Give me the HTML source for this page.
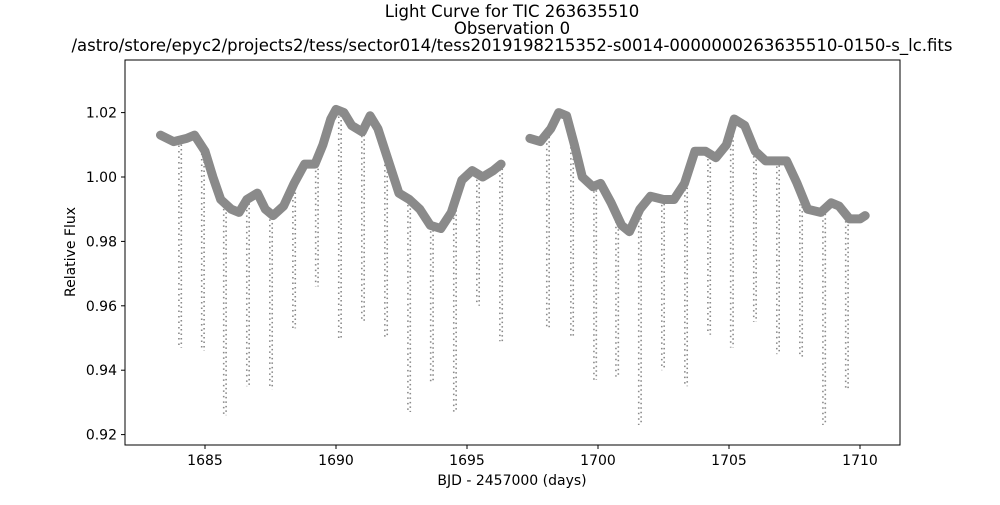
<!DOCTYPE html>
<html><head><meta charset="utf-8"><style>
body{margin:0;background:#fff;}
svg text{font-family:"DejaVu Sans","Liberation Sans",sans-serif;fill:#000;}
</style></head><body>
<svg id="chart" width="1000" height="500" xmlns="http://www.w3.org/2000/svg">
<g text-anchor="middle">
<text x="512" y="17" font-size="16.5">Light Curve for TIC 263635510</text>
<text x="512" y="34" font-size="16.5">Observation 0</text>
<text x="512" y="51" font-size="16.5">/astro/store/epyc2/projects2/tess/sector014/tess2019198215352-s0014-0000000263635510-0150-s_lc.fits</text>
</g>
<g id="marks"></g>
<rect x="125" y="60" width="775" height="385" fill="none" stroke="#000" stroke-width="1"/>
<g id="axes"></g>
<text x="512" y="485" font-size="14" text-anchor="middle">BJD - 2457000 (days)</text>
<text transform="translate(75,252) rotate(-90)" font-size="14" text-anchor="middle">Relative Flux</text>
</svg>
<script>
const seg1T=[1683.3,1683.8,1684.3,1684.6,1685.0,1685.3,1685.6,1686.0,1686.3,1686.6,1687.0,1687.3,1687.6,1688.0,1688.4,1688.8,1689.2,1689.5,1689.8,1690.0,1690.3,1690.6,1691.0,1691.3,1691.6,1692.0,1692.4,1692.8,1693.2,1693.6,1694.0,1694.4,1694.8,1695.2,1695.6,1696.0,1696.3];
const seg1F=[1.013,1.011,1.012,1.013,1.008,1.000,0.993,0.990,0.989,0.993,0.995,0.990,0.988,0.991,0.998,1.004,1.004,1.010,1.018,1.021,1.020,1.016,1.014,1.019,1.015,1.005,0.995,0.993,0.990,0.985,0.984,0.989,0.999,1.002,1.000,1.002,1.004];
const seg2T=[1697.4,1697.8,1698.2,1698.5,1698.8,1699.1,1699.4,1699.8,1700.1,1700.5,1700.9,1701.2,1701.6,1702.0,1702.5,1702.9,1703.3,1703.7,1704.1,1704.5,1704.9,1705.2,1705.6,1706.0,1706.4,1706.8,1707.2,1707.6,1708.0,1708.5,1708.9,1709.2,1709.6,1710.0,1710.2];
const seg2F=[1.012,1.011,1.015,1.020,1.019,1.010,1.000,0.997,0.998,0.992,0.985,0.983,0.990,0.994,0.993,0.993,0.998,1.008,1.008,1.006,1.010,1.018,1.016,1.008,1.005,1.005,1.005,0.998,0.990,0.989,0.992,0.991,0.987,0.987,0.988];
const dipT=[1684.05,1684.92,1685.76,1686.64,1687.52,1688.40,1689.27,1690.15,1691.03,1691.91,1692.79,1693.66,1694.54,1695.42,1696.30,1698.09,1699.01,1699.89,1700.73,1701.60,1702.48,1703.36,1704.24,1705.11,1705.99,1706.87,1707.75,1708.63,1709.50];
const dipF=[0.947,0.946,0.926,0.935,0.934,0.953,0.966,0.950,0.955,0.950,0.927,0.936,0.927,0.960,0.949,0.953,0.950,0.937,0.938,0.923,0.940,0.935,0.951,0.947,0.955,0.945,0.944,0.923,0.934];
const xTicks=[1685,1690,1695,1700,1705,1710];
const yTicks=[0.92,0.94,0.96,0.98,1.00,1.02];
const yLabels=["0.92","0.94","0.96","0.98","1.00","1.02"];
const NS="http://www.w3.org/2000/svg";
function X(t){return 336+(t-1690)*26.2;}
function Y(f){return 177-(f-1.0)*3220;}
function interp(T,F,t){for(let i=0;i<T.length-1;i++){if(t>=T[i]&&t<=T[i+1]){const u=(t-T[i])/(T[i+1]-T[i]);return F[i]+u*(F[i+1]-F[i]);}}return null;}
const marks=document.getElementById('marks');
[[seg1T,seg1F],[seg2T,seg2F]].forEach(([T,F],k)=>{
  const p=document.createElementNS(NS,'polyline');
  
  
  p.setAttribute('points',T.map((t,i)=>X(t).toFixed(1)+','+Y(F[i]).toFixed(1)).join(' '));
  p.setAttribute('fill','none');p.setAttribute('stroke','#8a8a8a');p.setAttribute('stroke-width','9');
  p.setAttribute('stroke-linejoin','round');p.setAttribute('stroke-linecap','round');
  marks.appendChild(p);
});
dipT.forEach((t,i)=>{
  let b=interp(seg1T,seg1F,t);if(b===null)b=interp(seg2T,seg2F,t);if(b===null)b=1.0;
  [-1.2,1.2].forEach((dx,j)=>{
    const l=document.createElementNS(NS,'line');
    
    
    l.setAttribute('x1',X(t)+dx);l.setAttribute('x2',X(t)+dx);
    l.setAttribute('y1',Y(b));l.setAttribute('y2',Y(dipF[i]));
    l.setAttribute('stroke','#8a8a8a');l.setAttribute('stroke-width','1.6');
    l.setAttribute('stroke-dasharray',j?'1.5 3':'1.5 4');
    marks.appendChild(l);
  });
});
const axes=document.getElementById('axes');
xTicks.forEach(v=>{
  const l=document.createElementNS(NS,'line');
  
  
  l.setAttribute('x1',X(v));l.setAttribute('x2',X(v));l.setAttribute('y1',445);l.setAttribute('y2',449);l.setAttribute('stroke','#000');
  axes.appendChild(l);
  const tx=document.createElementNS(NS,'text');
  
  
  tx.setAttribute('x',X(v));tx.setAttribute('y',465);tx.setAttribute('font-size','14');tx.setAttribute('text-anchor','middle');
  tx.textContent=v;axes.appendChild(tx);
});
yTicks.forEach((v,i)=>{
  const l=document.createElementNS(NS,'line');
  
  
  l.setAttribute('x1',121);l.setAttribute('x2',125);l.setAttribute('y1',Y(v));l.setAttribute('y2',Y(v));l.setAttribute('stroke','#000');
  axes.appendChild(l);
  const tx=document.createElementNS(NS,'text');
  
  
  tx.setAttribute('x',117);tx.setAttribute('y',Y(v)+5);tx.setAttribute('font-size','14');tx.setAttribute('text-anchor','end');
  tx.textContent=yLabels[i];axes.appendChild(tx);
});
</script>
</body></html>
